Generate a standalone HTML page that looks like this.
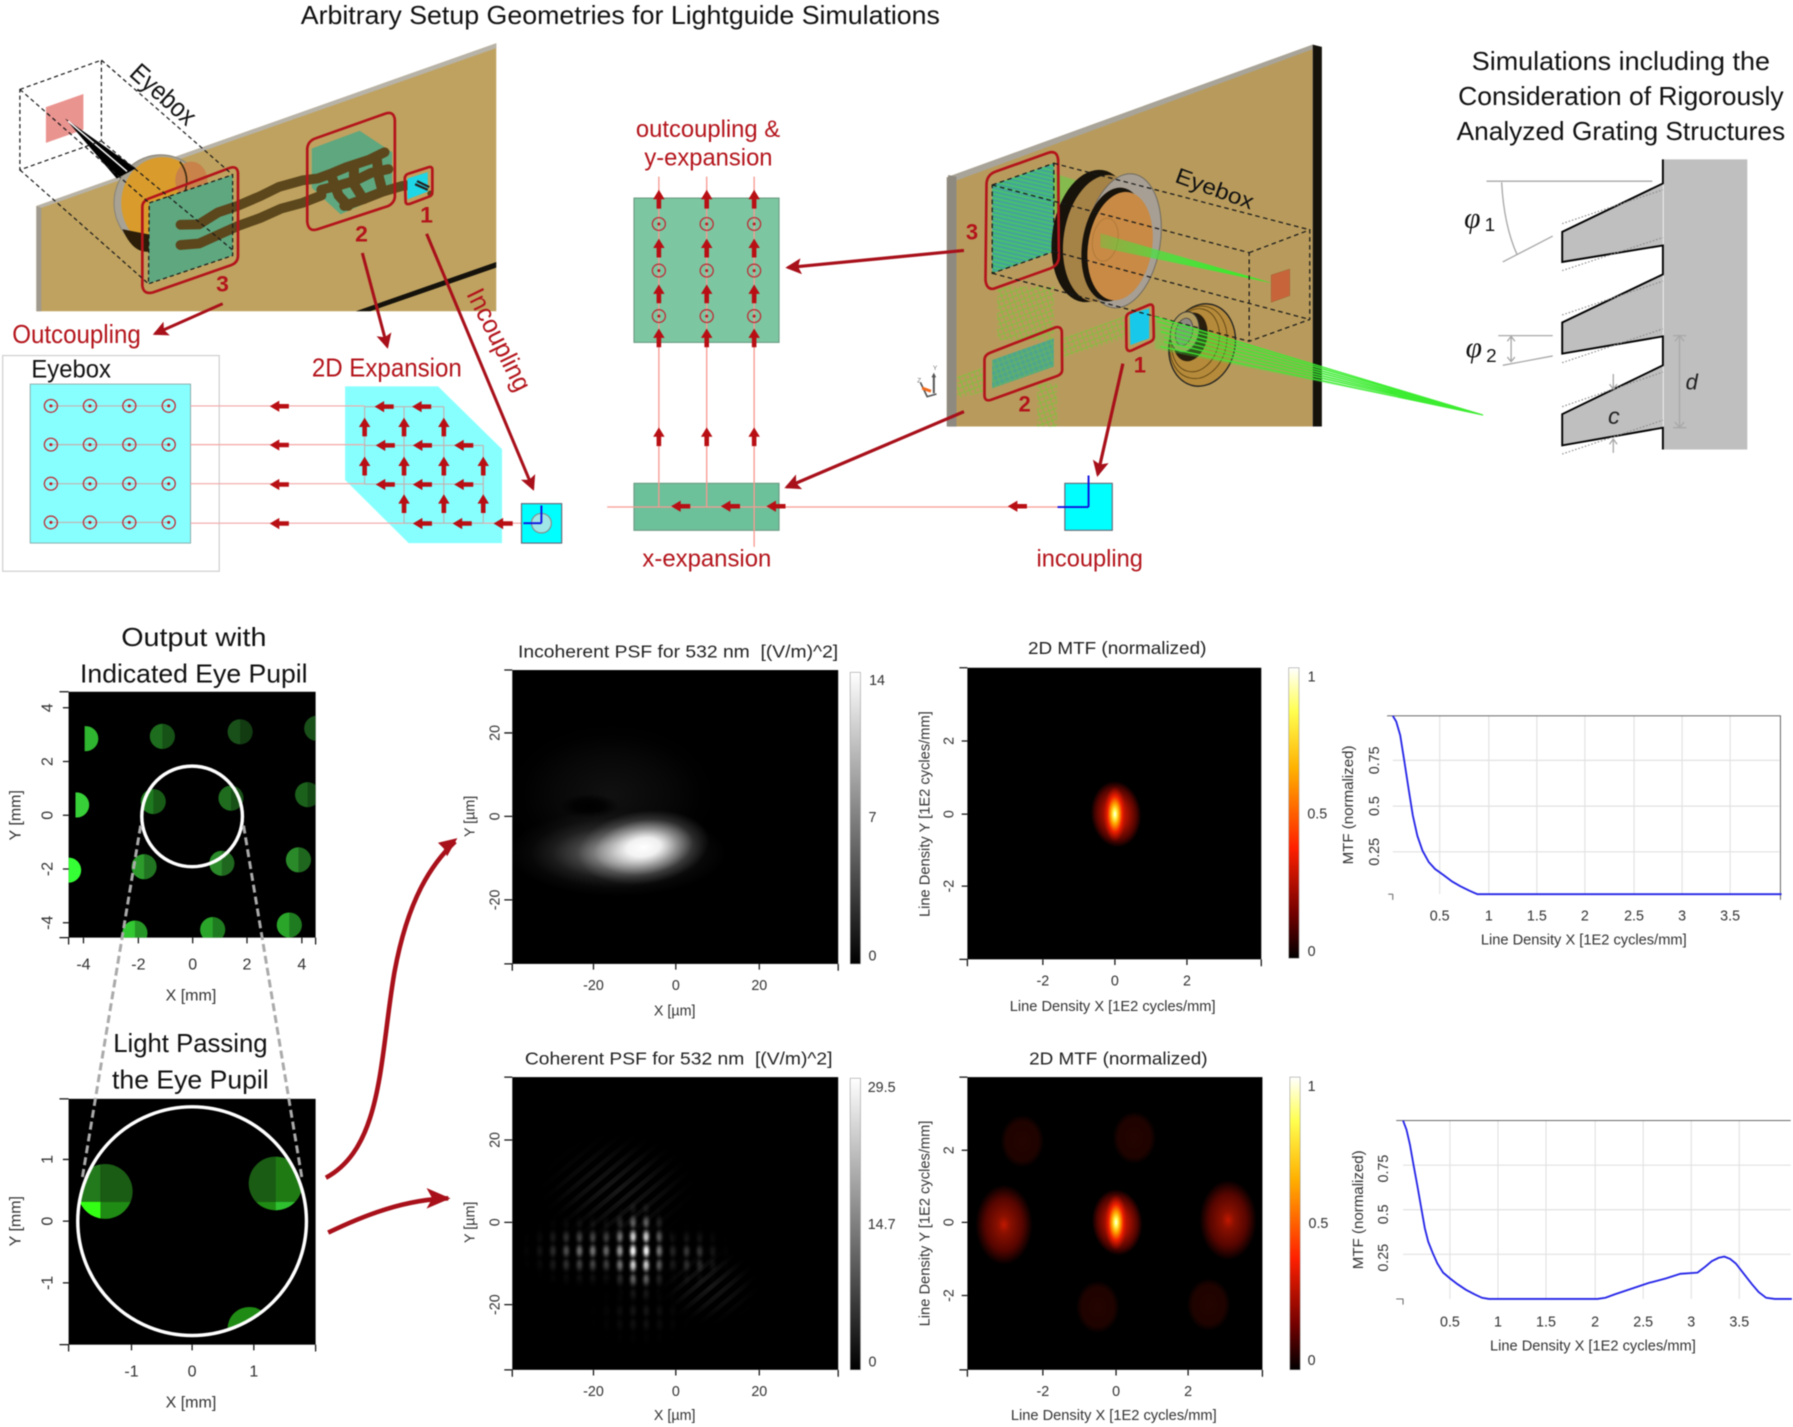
<!DOCTYPE html>
<html><head><meta charset="utf-8"><style>
html,body{margin:0;padding:0;background:#fff;width:1793px;height:1427px;overflow:hidden}
svg{display:block;filter:blur(.45px)}
text{font-family:"Liberation Sans",sans-serif}
.r{fill:#b3141b}
.ax{font-size:12.5px;fill:#333}
.ti{font-size:15.5px;fill:#222}
.hd{font-size:23px;fill:#111}
</style></head><body>
<svg xmlns="http://www.w3.org/2000/svg" width="1793" height="1427" viewBox="0 0 1568 1248" preserveAspectRatio="none">
<defs>
<marker id="h" markerUnits="strokeWidth" markerWidth="5" markerHeight="5" refX="4.2" refY="2.5" orient="auto"><path d="M0,0 L5,2.5 L0,5 L1,2.5Z" fill="#a8101a"/></marker>
<path id="al" d="M-25,0 L0,-15 L0,-6 L25,-6 L25,6 L0,6 L0,15Z" fill="#b80f14"/>
<path id="au" d="M0,-25 L-15,0 L-6,0 L-6,25 L6,25 L6,0 L15,0Z" fill="#b80f14"/>
<g id="cc"><circle r="17" fill="none" stroke="#bd3038" stroke-width="3.5"/><circle r="4" fill="#bd1c24"/></g>
<pattern id="gl" width="16" height="12" patternUnits="userSpaceOnUse" patternTransform="rotate(13)"><rect width="16" height="5" fill="#46e03e"/></pattern>
<pattern id="xh" width="22" height="22" patternUnits="userSpaceOnUse" patternTransform="rotate(25)"><path d="M0,0L22,22M22,0L0,22" stroke="#7cc23a" stroke-width="2.4" fill="none"/></pattern>
<linearGradient id="gb" x1="0" y1="0" x2="0" y2="1"><stop offset="0" stop-color="#fff"/><stop offset=".5" stop-color="#808080"/><stop offset="1" stop-color="#000"/></linearGradient>
<linearGradient id="hb" x1="0" y1="0" x2="0" y2="1"><stop offset="0" stop-color="#fff"/><stop offset=".15" stop-color="#ffff50"/><stop offset=".35" stop-color="#ffb000"/><stop offset=".62" stop-color="#ff2000"/><stop offset=".85" stop-color="#700000"/><stop offset="1" stop-color="#000"/></linearGradient>
<linearGradient id="ray" gradientUnits="userSpaceOnUse" x1="660" y1="330" x2="1178" y2="460"><stop offset="0" stop-color="#46e03e" stop-opacity=".35"/><stop offset=".45" stop-color="#40e83a" stop-opacity=".85"/><stop offset="1" stop-color="#30f020"/></linearGradient>
<radialGradient id="hot"><stop offset="0" stop-color="#fff"/><stop offset=".14" stop-color="#ffff60"/><stop offset=".36" stop-color="#ffa800"/><stop offset=".65" stop-color="#f02000"/><stop offset="1" stop-color="#c01000" stop-opacity="0"/></radialGradient>
<radialGradient id="hotb"><stop offset="0" stop-color="#d81c00"/><stop offset=".45" stop-color="#a81000"/><stop offset=".8" stop-color="#500400"/><stop offset="1" stop-color="#000"/></radialGradient>
<radialGradient id="hot2"><stop offset="0" stop-color="#c01800"/><stop offset=".22" stop-color="#8a1000"/><stop offset=".65" stop-color="#560500"/><stop offset="1" stop-color="#000"/></radialGradient>
<radialGradient id="hot3"><stop offset="0" stop-color="#240400"/><stop offset=".75" stop-color="#1e0300"/><stop offset="1" stop-color="#000"/></radialGradient>
<radialGradient id="gw"><stop offset="0" stop-color="#fff"/><stop offset=".25" stop-color="#fff" stop-opacity=".92"/><stop offset=".5" stop-color="#fff" stop-opacity=".5"/><stop offset=".75" stop-color="#fff" stop-opacity=".14"/><stop offset="1" stop-color="#fff" stop-opacity="0"/></radialGradient>
<radialGradient id="gg"><stop offset="0" stop-color="#999"/><stop offset=".2" stop-color="#999" stop-opacity=".85"/><stop offset=".4" stop-color="#999" stop-opacity=".5"/><stop offset=".6" stop-color="#999" stop-opacity=".22"/><stop offset=".8" stop-color="#999" stop-opacity=".06"/><stop offset="1" stop-color="#999" stop-opacity="0"/></radialGradient>
<radialGradient id="gd"><stop offset="0" stop-color="#2a2a2a"/><stop offset=".5" stop-color="#2a2a2a" stop-opacity=".5"/><stop offset=".8" stop-color="#2a2a2a" stop-opacity=".1"/><stop offset="1" stop-color="#2a2a2a" stop-opacity="0"/></radialGradient>
<radialGradient id="gk"><stop offset="0" stop-color="#000"/><stop offset=".5" stop-color="#000" stop-opacity=".8"/><stop offset="1" stop-color="#000" stop-opacity="0"/></radialGradient>
<pattern id="fr" x="547.65" y="1087.5" width="11.7" height="13" patternUnits="userSpaceOnUse"><ellipse cx="5.85" cy="6.500" rx="4.800" ry="9" fill="url(#gw)"/></pattern>
<pattern id="fd" width="9" height="9" patternUnits="userSpaceOnUse" patternTransform="rotate(-40)"><rect width="9" height="4" fill="#fff"/></pattern>
<mask id="mf" maskUnits="userSpaceOnUse" x="448" y="942" width="285" height="256">
<ellipse cx="515" cy="1094" rx="62" ry="34" fill="url(#gg)" opacity=".75"/>
<ellipse cx="605" cy="1098" rx="36" ry="30" fill="url(#gg)" opacity=".4"/>
<ellipse cx="559" cy="1094" rx="32" ry="44" fill="url(#gw)"/>
<ellipse cx="560" cy="1150" rx="50" ry="30" fill="url(#gg)" opacity=".14"/>
</mask>
<mask id="md" maskUnits="userSpaceOnUse" x="448" y="942" width="285" height="256">
<ellipse cx="540" cy="1040" rx="70" ry="50" fill="url(#gd)" opacity=".55"/>
<ellipse cx="620" cy="1125" rx="45" ry="35" fill="url(#gd)" opacity=".55"/>
</mask>
<clipPath id="c1"><rect x="60" y="605" width="216" height="215"/></clipPath>
<clipPath id="c2"><circle cx="168" cy="1068" r="100"/></clipPath>
<clipPath id="c3"><rect x="448" y="586" width="285" height="257"/></clipPath>
<clipPath id="c4"><rect x="448" y="942" width="285" height="256"/></clipPath>
<clipPath id="sL"><circle cx="92" cy="1042" r="24"/></clipPath>
<clipPath id="sR"><circle cx="241" cy="1035" r="23.500"/></clipPath>
</defs>
<rect width="1568" height="1248" fill="#fff"/>

<text x="263" y="21" class="hd" textLength="559" lengthAdjust="spacingAndGlyphs">Arbitrary Setup Geometries for Lightguide Simulations</text>

<!-- LEFT 3D -->
<g transform="scale(.3346,.3287)">
<polygon points="95,548 1297,115 1297,828 95,828" fill="#bfa25f"/>
<polygon points="95,548 108,553 108,828 95,828" fill="#a09a8e"/>
<polygon points="95,548 1297,115 1297,128 108,553" fill="#b8b3a8"/>
<polygon points="930,828 1297,697 1297,712 968,828" fill="#15120c"/>
<ellipse cx="420" cy="540" rx="122" ry="128" fill="#a8a294" stroke="#8b8678" stroke-width="3"/>
<ellipse cx="425" cy="540" rx="108" ry="122" fill="#d99c2c"/>
<ellipse cx="500" cy="480" rx="42" ry="50" fill="#c8824a"/>
<path d="M320,610 Q350,680 395,668 L395,625Z" fill="#2b1d08"/>
<path d="M470,430 Q500,470 480,520" stroke="#3a2a10" stroke-width="4" fill="none"/>
<polygon points="120,285 218,250 218,345 120,380" fill="#ea9490"/>
<polygon points="170,315 355,448 305,475" fill="#000"/>
<path d="M178,322 L332,456" stroke="#fff" stroke-width="4"/>
<polygon points="390,540 608,465 608,680 388,755" fill="#5ea77f"/>
<polygon points="815,395 940,348 1025,405 1025,510 890,570 815,500" fill="#5ea77f"/>
<g fill="none" stroke="#5c461c" stroke-width="26" stroke-linejoin="round" stroke-linecap="round">
<polyline points="472,598 520,597 570,565 620,548 680,522 730,497 790,480 830,475 870,460 905,445 965,425 1005,405"/>
<polyline points="472,652 520,648 570,625 620,602 680,580 735,555 790,540 840,520"/>
<polyline points="840,505 880,495 930,480 970,460 1015,450"/>
<polyline points="900,548 950,530 1000,510 1050,495 1100,490"/>
<polyline points="865,465 885,520 910,548"/>
<polyline points="925,445 925,490 950,530"/>
<polyline points="985,425 990,470 1000,510"/>
</g>
<polygon points="1065,475 1118,458 1118,510 1065,530" fill="#1ed6e6"/>
<path d="M1085,490L1118,505M1090,482L1122,498" stroke="#222" stroke-width="6"/>
<circle cx="1125" cy="515" r="8" fill="#5c461c"/>
<g fill="none" stroke="#b3141b" stroke-width="7" stroke-linejoin="round">
<path d="M372,550 Q372,535 390,528 L600,447 Q620,440 622,460 L622,680 Q622,698 605,705 L400,778 Q375,785 372,760Z"/>
<path d="M803,395 Q805,375 825,368 L1008,302 Q1030,295 1032,320 L1032,525 Q1030,540 1015,548 L830,610 Q806,618 803,590Z"/>
<path d="M1058,475 Q1058,465 1068,462 L1120,445 Q1130,442 1130,452 L1130,510 Q1130,520 1122,523 L1072,542 Q1060,546 1060,535Z"/>
</g>
<g fill="none" stroke="#1a1a1a" stroke-width="3.2" stroke-dasharray="11 8">
<polygon points="52,238 265,160 265,375 52,452"/>
<polygon points="390,540 608,465 608,680 388,755"/>
<path d="M52,238L390,540M265,160L608,465M52,452L388,755M265,375L608,665"/>
</g>
<text transform="translate(335,200) rotate(42)" font-size="70" fill="#111" textLength="205" lengthAdjust="spacingAndGlyphs">Eyebox</text>
<g font-weight="bold" font-size="60" class="r"><text x="1098" y="592">1</text><text x="928" y="642">2</text><text x="565" y="775">3</text></g>
<g stroke="#a8101a" stroke-width="8" fill="none">
<path d="M582,808L405,888" marker-end="url(#h)"/>
<path d="M947,673L1012,922" marker-end="url(#h)"/>
<path d="M1115,622L1393,1300" marker-end="url(#h)"/>
</g>
<g font-size="68" class="r">
<text x="32" y="912" textLength="336" lengthAdjust="spacingAndGlyphs">Outcoupling</text>
<text x="815" y="1002" textLength="392" lengthAdjust="spacingAndGlyphs">2D Expansion</text>
<text transform="translate(1218,782) rotate(63.5)" textLength="295" lengthAdjust="spacingAndGlyphs">Incoupling</text>
</g>
<rect x="7" y="946" width="566" height="574" fill="#fff" stroke="#ccc" stroke-width="3"/>
<text x="82" y="1005" font-size="66" fill="#111" textLength="208" lengthAdjust="spacingAndGlyphs">Eyebox</text>
<rect x="79" y="1022" width="419" height="423" fill="#88ffff" stroke="#8aa" stroke-width="2.5"/>
<polygon points="902,1028 1145,1028 1312,1195 1312,1445 1068,1445 902,1277" fill="#88ffff"/>
<g stroke="#f4a6a6" stroke-width="3" fill="none">
<path d="M498,1080H953M498,1183H953M498,1287H953M498,1392H1056M1263,1392H1363"/>
</g>
<g stroke="#c4b0b0" stroke-width="3" fill="none">
<path d="M133,1080H441M133,1183H441M133,1287H441M133,1390H441"/>
<path d="M953,1082H1160M953,1185H1263M953,1288H1263M1056,1392H1263M953,1082V1288M1056,1082V1392M1160,1082V1392M1263,1185V1392"/>
</g>
<g>
<use href="#cc" x="133" y="1080"/><use href="#cc" x="235" y="1080"/><use href="#cc" x="338" y="1080"/><use href="#cc" x="441" y="1080"/>
<use href="#cc" x="133" y="1183"/><use href="#cc" x="235" y="1183"/><use href="#cc" x="338" y="1183"/><use href="#cc" x="441" y="1183"/>
<use href="#cc" x="133" y="1287"/><use href="#cc" x="235" y="1287"/><use href="#cc" x="338" y="1287"/><use href="#cc" x="441" y="1287"/>
<use href="#cc" x="133" y="1390"/><use href="#cc" x="235" y="1390"/><use href="#cc" x="338" y="1390"/><use href="#cc" x="441" y="1390"/>
<use href="#al" x="730" y="1081"/><use href="#al" x="730" y="1184"/><use href="#al" x="730" y="1289"/><use href="#al" x="730" y="1393"/>
<use href="#al" x="1004" y="1082"/><use href="#al" x="1102" y="1082"/>
<use href="#al" x="1007" y="1185"/><use href="#al" x="1104" y="1185"/><use href="#al" x="1212" y="1185"/>
<use href="#al" x="1007" y="1289"/><use href="#al" x="1104" y="1289"/><use href="#al" x="1212" y="1289"/>
<use href="#al" x="1104" y="1393"/><use href="#al" x="1208" y="1393"/><use href="#al" x="1315" y="1393"/>
<use href="#au" x="953" y="1136"/><use href="#au" x="1056" y="1136"/><use href="#au" x="1160" y="1136"/>
<use href="#au" x="953" y="1240"/><use href="#au" x="1056" y="1240"/><use href="#au" x="1160" y="1240"/><use href="#au" x="1263" y="1240"/>
<use href="#au" x="1056" y="1340"/><use href="#au" x="1160" y="1340"/><use href="#au" x="1263" y="1340"/>
</g>
<rect x="1363" y="1340" width="105" height="105" fill="#0ff" stroke="#667" stroke-width="3"/>
<circle cx="1415" cy="1392" r="26" fill="#9fe6e6" stroke="#888" stroke-width="3"/>
<path d="M1415,1392V1345M1415,1392H1368" stroke="#1010e0" stroke-width="5"/>
</g>

<!-- CENTER SCHEMATIC -->
<g transform="translate(525,0) scale(.3346,.3287)">
<g font-size="64" class="r">
<text x="93" y="365" textLength="377" lengthAdjust="spacingAndGlyphs">outcoupling &amp;</text>
<text x="115" y="440" textLength="335" lengthAdjust="spacingAndGlyphs">y-expansion</text>
<text x="110" y="1507" textLength="337" lengthAdjust="spacingAndGlyphs">x-expansion</text>
<text x="1140" y="1507" textLength="278" lengthAdjust="spacingAndGlyphs">incoupling</text>
</g>
<rect x="88" y="527" width="379" height="384" fill="#7cc7a2" stroke="#6b9c83" stroke-width="3"/>
<rect x="88" y="1286" width="379" height="125" fill="#6cc09a" stroke="#6b9c83" stroke-width="3"/>
<rect x="1214" y="1286" width="124" height="125" fill="#0ff" stroke="#667" stroke-width="3"/>
<g stroke="#f79a92" stroke-width="3.5" fill="none">
<path d="M153,470V1349M278,470V1349M402,470V1455M18,1349H1215"/>
</g>
<use href="#cc" x="153" y="596"/><use href="#cc" x="278" y="596"/><use href="#cc" x="402" y="596"/>
<use href="#cc" x="153" y="720"/><use href="#cc" x="278" y="720"/><use href="#cc" x="402" y="720"/>
<use href="#cc" x="153" y="841"/><use href="#cc" x="278" y="841"/><use href="#cc" x="402" y="841"/>
<use href="#au" x="153" y="530"/><use href="#au" x="278" y="530"/><use href="#au" x="402" y="530"/>
<use href="#au" x="153" y="660"/><use href="#au" x="278" y="660"/><use href="#au" x="402" y="660"/>
<use href="#au" x="153" y="782"/><use href="#au" x="278" y="782"/><use href="#au" x="402" y="782"/>
<use href="#au" x="153" y="899"/><use href="#au" x="278" y="899"/><use href="#au" x="402" y="899"/>
<use href="#au" x="153" y="1162"/><use href="#au" x="278" y="1162"/><use href="#au" x="402" y="1162"/>
<use href="#al" x="210" y="1347"/><use href="#al" x="340" y="1347"/><use href="#al" x="459" y="1347"/><use href="#al" x="1090" y="1347"/>
<path d="M1276,1349V1265M1276,1349H1195" stroke="#1010e0" stroke-width="5"/>
</g>

<!-- RIGHT 3D -->
<polygon points="828,155 1148,39 1148,373 828,373" fill="#b89b5c"/>
<polygon points="828,155 836,158 836,373 828,373" fill="#8f8a80"/>
<polygon points="828,155 1148,39 1148,43 836,158" fill="#a8a49a"/>
<polygon points="1148,39 1156,41 1156,373 1148,373" fill="#15120c"/>
<g transform="translate(770,113.7) scale(.2915)">
<polygon points="203,890 228,890 228,140 203,135" fill="#8f8a80"/>
<rect x="350" y="470" width="170" height="160" fill="url(#xh)"/>
<rect x="470" y="760" width="60" height="130" fill="url(#xh)"/>
<polygon points="230,740 310,712 310,785 230,805" fill="url(#xh)"/>
<polygon points="545,625 735,558 735,625 545,682" fill="url(#xh)"/>
<polygon points="335,165 520,100 520,365 335,430" fill="#45a39a"/>
<polygon points="335,165 520,100 520,365 335,430" fill="url(#gl)" opacity=".55"/>
<polygon points="335,690 520,625 520,710 335,775" fill="#4fa68a"/>
<polygon points="335,690 520,625 520,710 335,775" fill="url(#xh)" opacity=".5"/>
<polygon points="748,552 806,535 806,625 750,645" fill="#18c8ea"/>
<polygon points="520,130 680,180 660,260 520,250" fill="#46e03e" opacity=".45"/>
<g transform="rotate(9 680 325)">
<ellipse cx="635" cy="325" rx="120" ry="200" fill="#17120a"/>
<ellipse cx="665" cy="328" rx="115" ry="192" fill="#a58246"/>
<ellipse cx="728" cy="325" rx="112" ry="203" fill="#a79f94" stroke="#706a60" stroke-width="3"/>
<ellipse cx="703" cy="340" rx="95" ry="172" fill="#17120a"/>
<ellipse cx="722" cy="342" rx="96" ry="164" fill="#c88a45"/>
<ellipse cx="675" cy="330" rx="38" ry="65" fill="none" stroke="#a97434" stroke-width="2"/>
</g>
<polygon points="660,310 1178,460 660,352" fill="url(#ray)"/>
<polygon points="1172,435 1228,417 1228,497 1172,517" fill="#c8643a" stroke="#8a5a30" stroke-width="1"/>
<g transform="rotate(14 965 645)">
<ellipse cx="965" cy="645" rx="98" ry="125" fill="#b58a3a" stroke="#222" stroke-width="4"/>
<ellipse cx="952" cy="640" rx="84" ry="110" fill="none" stroke="#5a4010" stroke-width="2.5"/>
<ellipse cx="942" cy="636" rx="70" ry="96" fill="none" stroke="#5a4010" stroke-width="2.5"/>
<ellipse cx="925" cy="630" rx="50" ry="74" fill="#2a1e0c"/>
<ellipse cx="905" cy="620" rx="42" ry="62" fill="#b09a60" stroke="#333" stroke-width="3"/>
<ellipse cx="903" cy="620" rx="25" ry="42" fill="#8f8a80" stroke="#333" stroke-width="2"/>
</g>
<g fill="none" stroke="#b3141b" stroke-width="8" stroke-linejoin="round">
<path d="M318,165 Q318,135 345,125 L505,68 Q530,60 533,90 L535,380 Q535,405 510,415 L340,476 Q318,480 315,450Z"/>
<path d="M312,690 Q312,675 330,668 L525,592 Q542,588 544,605 L545,720 Q545,732 530,738 L330,810 Q312,815 312,795Z"/>
<path d="M737,565 Q737,552 750,548 L805,525 Q817,520 818,533 L820,620 Q820,630 810,635 L752,662 Q740,666 738,652Z"/>
</g>
<g font-weight="bold" font-size="66" class="r"><text x="256" y="329">3</text><text x="414" y="845">2</text><text x="760" y="728">1</text></g>
<text transform="translate(880,155) rotate(20)" font-size="66" fill="#111" textLength="245" lengthAdjust="spacingAndGlyphs">Eyebox</text>
<g transform="translate(150,770)">
<path d="M10,20V-35" stroke="#555" stroke-width="6"/><path d="M10,-42l-7,14h14z" fill="#555"/>
<path d="M-30,-12L-10,30L18,22" stroke="#555" stroke-width="5" fill="none"/>
<rect x="-22" y="8" width="28" height="9" fill="#f26a1e" transform="rotate(20)"/>
<text x="7" y="-50" font-size="20" fill="#777">Y</text><text x="-40" y="-12" font-size="20" fill="#777">Z</text>
</g>
</g>
<g stroke="#a8101a" stroke-width="2.8" fill="none">
<path d="M843,219L689,234" marker-end="url(#h)"/>
<path d="M843,360L688,426" marker-end="url(#h)"/>
<path d="M982,318L960,415" marker-end="url(#h)"/>
</g>
<g fill="none" stroke="#1a1a1a" stroke-width="1.1" stroke-dasharray="4 3">
<polygon points="867.700,161.800 921.600,142.800 921.600,220 867.700,239"/>
<path d="M921.600,142.800L1145.400,201M867.700,161.800L1092.400,221M921.600,220L1145.400,279.400M867.700,239L1092.400,298.500"/>
<polygon points="1092.400,221 1145.400,201 1145.400,279.400 1092.400,298.500"/>
</g>
<polygon points="1010,277 1297,363 1010,305" fill="#3fe83a" opacity=".3"/>
<g stroke="#3cec30" stroke-width="1.1" fill="none">
<path d="M1010,277L1297,363M1012,281L1297,363M1015,286L1297,363M1015,290L1297,363M1018,295L1297,363M1018,299L1297,363M1015,303L1297,363"/>
</g>

<!-- GRATING -->
<g transform="translate(1049.4,0) scale(.331,.3287)">
<text x="718" y="186" font-size="69" fill="#111" textLength="788" lengthAdjust="spacingAndGlyphs">Simulations including the</text>
<text x="682" y="280" font-size="69" fill="#111" textLength="860" lengthAdjust="spacingAndGlyphs">Consideration of Rigorously</text>
<text x="678" y="372" font-size="69" fill="#111" textLength="868" lengthAdjust="spacingAndGlyphs">Analyzed Grating Structures</text>
<rect x="1225" y="424" width="221" height="772" fill="#bfbfbf"/>
<path d="M1223,424V488L957,617V697L1223,653V730L957,858V941L1223,895V972L957,1102V1185L1223,1138V1196" fill="#bfbfbf" stroke="#000" stroke-width="5"/>
<g stroke="#888" stroke-width="3" stroke-dasharray="4 5" fill="none">
<path d="M957,595L1223,505M957,720L1223,632M957,838L1223,748M957,965L1223,875M957,1082L1223,990M957,1208L1223,1118"/>
</g>
<g stroke="#a8a8a8" stroke-width="3.5" fill="none">
<path d="M757,482H1195M800,697L932,628M797,485Q803,600 838,678"/>
<path d="M788,893H932M800,972L932,947M822,895V962M812,908L822,895L832,908M812,950L822,962L832,950"/>
<path d="M1250,893H1285M1250,1138H1285M1267,893V1138M1255,908L1267,893L1279,908M1255,1123L1267,1138L1279,1123"/>
<path d="M1092,995V1035M1082,1022L1092,1035L1102,1022M1092,1205V1168M1082,1182L1092,1168L1102,1182"/>
</g>
<g font-style="italic" fill="#111">
<text x="698" y="605" font-size="78" style="font-family:'Liberation Serif',serif">φ</text><text x="752" y="615" font-size="50" font-style="normal">1</text>
<text x="702" y="950" font-size="78" style="font-family:'Liberation Serif',serif">φ</text><text x="756" y="963" font-size="50" font-style="normal">2</text>
</g>
<text x="1283" y="1037" font-size="58" font-style="italic" fill="#222">d</text>
<text x="1078" y="1128" font-size="62" font-style="italic" fill="#222">c</text>
</g>

<!-- BOTTOM LEFT -->
<g class="hd" text-anchor="middle">
<text x="169.5" y="565" textLength="127" lengthAdjust="spacingAndGlyphs">Output with</text>
<text x="169.5" y="597" textLength="199" lengthAdjust="spacingAndGlyphs">Indicated Eye Pupil</text>
<text x="166.5" y="920" textLength="135" lengthAdjust="spacingAndGlyphs">Light Passing</text>
<text x="166.5" y="952" textLength="137" lengthAdjust="spacingAndGlyphs">the Eye Pupil</text>
</g>
<rect x="60" y="605" width="216" height="215" fill="#000"/>
<g clip-path="url(#c1)">
<clipPath id="c1a"><rect x="74" y="605" width="202" height="215"/></clipPath>
<clipPath id="c1b"><rect x="66" y="605" width="210" height="215"/></clipPath>
<circle cx="75" cy="646" r="11" fill="#2fb52f" clip-path="url(#c1a)"/>
<circle cx="142" cy="644" r="11" fill="#1e6c1e"/>
<circle cx="210" cy="640" r="11" fill="#194f19"/>
<circle cx="277" cy="637" r="11" fill="#194f19"/>
<circle cx="67" cy="704" r="11" fill="#38d038" clip-path="url(#c1b)"/>
<circle cx="134" cy="701" r="11" fill="#1f7a1f"/>
<circle cx="202" cy="698" r="11" fill="#1f6c1f"/>
<circle cx="269" cy="695" r="11" fill="#1b601b"/>
<circle cx="60" cy="761" r="11" fill="#35ff35"/>
<circle cx="126" cy="758" r="11" fill="#2c9b2c"/>
<circle cx="194" cy="755" r="11" fill="#2a8a2a"/>
<circle cx="261" cy="752" r="11" fill="#2a8a2a"/>
<circle cx="118" cy="816" r="11" fill="#33c933"/>
<circle cx="186" cy="813" r="11" fill="#2aa52a"/>
<circle cx="253" cy="809" r="11" fill="#2aa52a"/>
<g fill="#000" opacity=".25">
<rect x="142" y="633" width="11" height="22"/><rect x="210" y="629" width="11" height="22"/><rect x="134" y="690" width="11" height="22"/><rect x="202" y="687" width="11" height="22"/><rect x="269" y="684" width="7" height="22"/><rect x="126" y="747" width="11" height="22"/><rect x="194" y="744" width="11" height="22"/><rect x="261" y="741" width="11" height="22"/><rect x="118" y="805" width="11" height="15"/><rect x="186" y="802" width="11" height="18"/><rect x="253" y="798" width="11" height="22"/>
</g>
</g>
<rect x="60" y="961" width="216" height="215" fill="#000"/>
<g clip-path="url(#c2)">
<g clip-path="url(#sL)">
<rect x="60" y="1010" width="28" height="41" fill="#237a1c"/>
<rect x="88" y="1010" width="32" height="41" fill="#1a5c14"/>
<rect x="60" y="1051" width="28" height="20" fill="#33ff14"/>
<rect x="88" y="1051" width="32" height="20" fill="#1f8a14"/>
</g>
<g clip-path="url(#sR)">
<rect x="210" y="1005" width="31" height="46" fill="#1a5c14"/>
<rect x="241" y="1005" width="30" height="46" fill="#1f7a14"/>
<rect x="210" y="1051" width="31" height="12" fill="#1f8a14"/>
<rect x="241" y="1051" width="30" height="12" fill="#2fc02f"/>
</g>
<circle cx="218" cy="1162" r="19" fill="#1f8a14"/>
</g>
<g fill="none" stroke="#fff" stroke-width="3"><circle cx="168" cy="714" r="44"/><circle cx="168" cy="1068" r="100"/></g>
<path d="M123,722L72,1030M213,722L264,1030" stroke="#aaa" stroke-width="2.6" stroke-dasharray="7 3.5" fill="none"/>

<g stroke="#111" stroke-width="1.1" fill="none">
<path d="M52,605H60M55,619H60M55,666H60M55,713H60M55,760H60M55,807H60M52,820H60M60,820V826M73,820V825M121,820V825M168.500,820V825M216,820V825M264,820V825M276,820V826"/>
<path d="M52,961H60M55,1014H60M55,1068H60M55,1122H60M52,1176H60M60,1176V1182M115,1176V1181M168,1176V1181M222,1176V1181M276,1176V1182"/>
<path d="M441,586H448M441,641H448M441,714H448M441,787H448M441,843H448M448,843V849M519,843V848M591,843V848M664,843V848M733,843V849"/>
<path d="M441,942H448M441,997H448M441,1069H448M441,1141H448M441,1198H448M448,1198V1204M519,1198V1203M591,1198V1203M664,1198V1203M733,1198V1204"/>
<path d="M839,584H846M841,648H846M841,712H846M841,775H846M839,839H846M846,839V845M912,839V844M975,839V844M1038,839V844M1103,839V845"/>
<path d="M839,942H846M841,1006H846M841,1069H846M841,1133H846M839,1198H846M846,1198V1204M912,1198V1203M976,1198V1203M1039,1198V1203M1104,1198V1204"/>
</g>
<g class="ax" text-anchor="middle" font-size="14">
<text x="73" y="848" style="font-size:14px">-4</text><text x="121" y="848" style="font-size:14px">-2</text><text x="168.500" y="848" style="font-size:14px">0</text><text x="216" y="848" style="font-size:14px">2</text><text x="264" y="848" style="font-size:14px">4</text>
<text x="167" y="875" style="font-size:14px">X [mm]</text>
<text transform="translate(46,619) rotate(-90)" style="font-size:14px">4</text><text transform="translate(46,666) rotate(-90)" style="font-size:14px">2</text><text transform="translate(46,713) rotate(-90)" style="font-size:14px">0</text><text transform="translate(46,760) rotate(-90)" style="font-size:14px">-2</text><text transform="translate(46,807) rotate(-90)" style="font-size:14px">-4</text>
<text transform="translate(18,713) rotate(-90)" style="font-size:14px">Y [mm]</text>
<text x="115" y="1204" style="font-size:14px">-1</text><text x="168" y="1204" style="font-size:14px">0</text><text x="222" y="1204" style="font-size:14px">1</text>
<text x="167" y="1231" style="font-size:14px">X [mm]</text>
<text transform="translate(46,1014) rotate(-90)" style="font-size:14px">1</text><text transform="translate(46,1068) rotate(-90)" style="font-size:14px">0</text><text transform="translate(46,1122) rotate(-90)" style="font-size:14px">-1</text>
<text transform="translate(18,1068) rotate(-90)" style="font-size:14px">Y [mm]</text>
</g>
<g fill="none" stroke="#a8101a" stroke-width="4">
<path d="M285,1030 C335,1003 332,925 345,850 C357,785 378,755 398,736"/>
<path d="M287,1078 C320,1062 355,1049 392,1048"/>
</g>
<path d="M400,733L383,737L388,742L391,749Z" fill="#a8101a"/>
<path d="M394,1048L373,1039L378,1048L373,1057Z" fill="#a8101a"/>

<!-- PSF TOP -->
<text x="453" y="575" class="ti" textLength="280" lengthAdjust="spacingAndGlyphs">Incoherent PSF for 532 nm&#160;&#160;[(V/m)^2]</text>
<rect x="448" y="586" width="285" height="257" fill="#000"/>
<g clip-path="url(#c3)">
<ellipse cx="535" cy="695" rx="95" ry="65" fill="url(#gd)" opacity=".4"/>
<ellipse cx="515" cy="705" rx="26" ry="11" fill="url(#gk)"/>
<ellipse cx="540" cy="746" rx="95" ry="38" fill="url(#gg)" opacity=".8"/>
<ellipse cx="563" cy="741" rx="58" ry="32" fill="url(#gw)" transform="rotate(-8 563 741)"/>
</g>
<rect x="743.500" y="588" width="9" height="255" fill="url(#gb)" stroke="#999" stroke-width=".5"/>

<!-- PSF BOTTOM -->
<text x="459" y="931" class="ti" textLength="269" lengthAdjust="spacingAndGlyphs">Coherent PSF for 532 nm&#160;&#160;[(V/m)^2]</text>
<rect x="448" y="942" width="285" height="256" fill="#000"/>
<g clip-path="url(#c4)">
<rect x="448" y="942" width="285" height="256" fill="url(#fd)" mask="url(#md)"/>
<rect x="448" y="942" width="285" height="256" fill="url(#fr)" mask="url(#mf)"/>
</g>
<rect x="743.500" y="943" width="9" height="255" fill="url(#gb)" stroke="#999" stroke-width=".5"/>

<g class="ax" text-anchor="middle">
<text transform="translate(437,641) rotate(-90)">20</text><text transform="translate(437,714) rotate(-90)">0</text><text transform="translate(437,787) rotate(-90)">-20</text>
<text transform="translate(415,714) rotate(-90)">Y [µm]</text>
<text x="519" y="866">-20</text><text x="591" y="866">0</text><text x="664" y="866">20</text>
<text x="590" y="888">X [µm]</text>
<text x="767" y="599">14</text><text x="763" y="719">7</text><text x="763" y="840">0</text>
<text transform="translate(437,997) rotate(-90)">20</text><text transform="translate(437,1069) rotate(-90)">0</text><text transform="translate(437,1141) rotate(-90)">-20</text>
<text transform="translate(415,1069) rotate(-90)">Y [µm]</text>
<text x="519" y="1221">-20</text><text x="591" y="1221">0</text><text x="664" y="1221">20</text>
<text x="590" y="1242">X [µm]</text>
<text x="771" y="955">29.5</text><text x="771" y="1075">14.7</text><text x="763" y="1195">0</text>
</g>

<!-- MTF TOP -->
<text x="899" y="572" class="ti" textLength="156" lengthAdjust="spacingAndGlyphs">2D MTF (normalized)</text>
<rect x="846" y="584" width="257" height="255" fill="#000"/>
<ellipse cx="976" cy="712" rx="22" ry="29" fill="url(#hotb)" transform="rotate(-6 976 712)"/>
<ellipse cx="975" cy="712" rx="10" ry="24" fill="url(#hot)"/>
<rect x="1127" y="584" width="9" height="254" fill="url(#hb)" stroke="#999" stroke-width=".5"/>
<!-- MTF BOTTOM -->
<text x="900" y="931" class="ti" textLength="156" lengthAdjust="spacingAndGlyphs">2D MTF (normalized)</text>
<rect x="846" y="942" width="258" height="256" fill="#000"/>
<ellipse cx="878" cy="1071" rx="25" ry="35" fill="url(#hot2)"/>
<ellipse cx="1074" cy="1067" rx="25" ry="35" fill="url(#hot2)"/>
<ellipse cx="894" cy="998" rx="19" ry="23" fill="url(#hot3)"/>
<ellipse cx="992" cy="995" rx="19" ry="23" fill="url(#hot3)"/>
<ellipse cx="960" cy="1143" rx="19" ry="23" fill="url(#hot3)"/>
<ellipse cx="1057" cy="1141" rx="19" ry="23" fill="url(#hot3)"/>
<ellipse cx="977" cy="1069" rx="22" ry="29" fill="url(#hotb)" transform="rotate(-6 977 1069)"/>
<ellipse cx="976" cy="1069" rx="10" ry="24" fill="url(#hot)"/>
<rect x="1128" y="942" width="9" height="256" fill="url(#hb)" stroke="#999" stroke-width=".5"/>

<g class="ax" text-anchor="middle">
<text transform="translate(834,648) rotate(-90)">2</text><text transform="translate(834,712) rotate(-90)">0</text><text transform="translate(834,775) rotate(-90)">-2</text>
<text transform="translate(813,712) rotate(-90)" textLength="180" lengthAdjust="spacingAndGlyphs">Line Density Y [1E2 cycles/mm]</text>
<text x="912" y="862">-2</text><text x="975" y="862">0</text><text x="1038" y="862">2</text>
<text x="973" y="884" textLength="180" lengthAdjust="spacingAndGlyphs">Line Density X [1E2 cycles/mm]</text>
<text x="1147" y="596">1</text><text x="1152" y="716">0.5</text><text x="1147" y="836">0</text>
<text transform="translate(834,1006) rotate(-90)">2</text><text transform="translate(834,1069) rotate(-90)">0</text><text transform="translate(834,1133) rotate(-90)">-2</text>
<text transform="translate(813,1070) rotate(-90)" textLength="180" lengthAdjust="spacingAndGlyphs">Line Density Y [1E2 cycles/mm]</text>
<text x="912" y="1221">-2</text><text x="976" y="1221">0</text><text x="1039" y="1221">2</text>
<text x="974" y="1242" textLength="180" lengthAdjust="spacingAndGlyphs">Line Density X [1E2 cycles/mm]</text>
<text x="1147" y="954">1</text><text x="1153" y="1074">0.5</text><text x="1147" y="1194">0</text>
</g>

<!-- CHARTS -->
<g stroke="#e2e2e2" stroke-width="1" fill="none">
<path d="M1259,626V782M1302,626V782M1344,626V782M1386,626V782M1429,626V782M1471,626V782M1513,626V782M1218,665H1556M1218,705H1556M1218,745H1556"/>
<path d="M1268,980V1136M1310,980V1136M1352,980V1136M1395,980V1136M1437,980V1136M1479,980V1136M1521,980V1136M1227,1019H1566M1227,1058H1566M1227,1097H1566"/>
</g>
<g stroke="#555" stroke-width=".8" fill="none">
<path d="M1213,626H1557V782M1214,782H1218M1218,782V787M1557,782V787"/>
<path d="M1221,980H1566M1221,1136H1227M1227,1136V1141"/>
</g>
<polyline points="1218,626 1221,631 1224.500,643 1228,665 1232,691 1235.500,713 1239.500,731 1244,744 1249.500,754 1255,760 1262,765 1270,771 1277,775 1285,779 1292,782 1558,782" fill="none" stroke="#2424e8" stroke-width="1.6"/>
<polyline points="1227,980 1230,988 1233,1001 1236,1018 1239.500,1037 1243,1057 1246,1074 1249,1086 1253,1096 1257,1105 1262,1113 1268,1118 1274.500,1123 1282,1128 1289.500,1132 1296,1135 1302,1136 1397,1136 1404,1135 1412,1132 1427,1127 1442,1122 1457,1118 1469.500,1114 1484.500,1113 1491,1108 1497,1103 1503,1100 1508,1099 1513,1101 1518,1105 1525,1114 1532,1123 1538,1130 1544.500,1135 1552,1136 1567,1136" fill="none" stroke="#2424e8" stroke-width="1.6"/>
<g class="ax" text-anchor="middle">
<text x="1259" y="805">0.5</text><text x="1302" y="805">1</text><text x="1344" y="805">1.5</text><text x="1386" y="805">2</text><text x="1429" y="805">2.5</text><text x="1471" y="805">3</text><text x="1513" y="805">3.5</text>
<text x="1385" y="826" textLength="180" lengthAdjust="spacingAndGlyphs">Line Density X [1E2 cycles/mm]</text>
<text transform="translate(1206,665) rotate(-90)">0.75</text><text transform="translate(1206,705) rotate(-90)">0.5</text><text transform="translate(1206,745) rotate(-90)">0.25</text>
<text transform="translate(1183,704) rotate(-90)" textLength="104" lengthAdjust="spacingAndGlyphs">MTF (normalized)</text>
<text x="1268" y="1160">0.5</text><text x="1310" y="1160">1</text><text x="1352" y="1160">1.5</text><text x="1395" y="1160">2</text><text x="1437" y="1160">2.5</text><text x="1479" y="1160">3</text><text x="1521" y="1160">3.5</text>
<text x="1393" y="1181" textLength="180" lengthAdjust="spacingAndGlyphs">Line Density X [1E2 cycles/mm]</text>
<text transform="translate(1214,1022) rotate(-90)">0.75</text><text transform="translate(1214,1062) rotate(-90)">0.5</text><text transform="translate(1214,1100) rotate(-90)">0.25</text>
<text transform="translate(1192,1058) rotate(-90)" textLength="104" lengthAdjust="spacingAndGlyphs">MTF (normalized)</text>
</g>
</svg>
</body></html>
